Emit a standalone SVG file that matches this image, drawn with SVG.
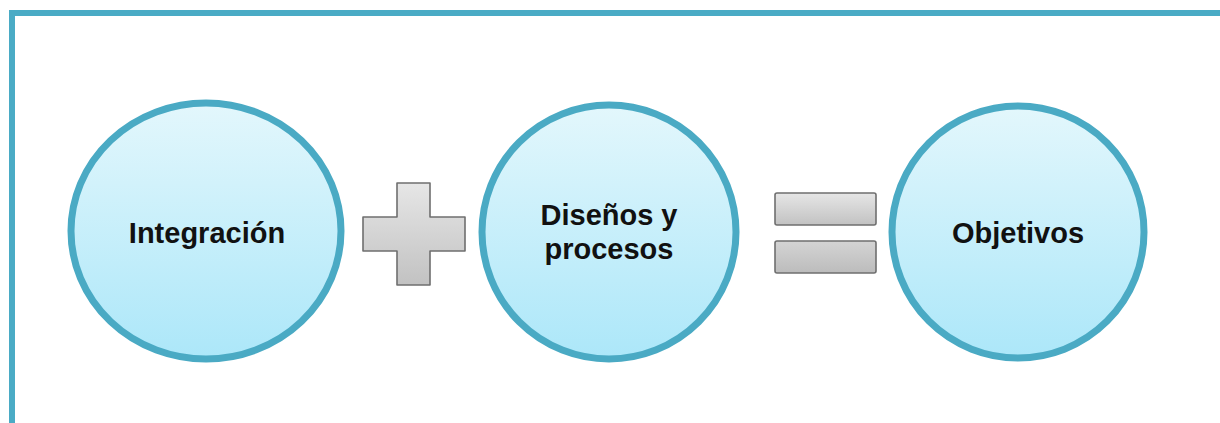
<svg xmlns="http://www.w3.org/2000/svg" width="1220" height="423" viewBox="0 0 1220 423">
<defs>
<linearGradient id="gCircle" x1="0" y1="0" x2="0" y2="1">
<stop offset="0" stop-color="#e3f7fc"/>
<stop offset="1" stop-color="#ace7f9"/>
</linearGradient>
<linearGradient id="gGray" x1="0" y1="0" x2="0" y2="1">
<stop offset="0" stop-color="#e6e6e6"/>
<stop offset="1" stop-color="#c2c2c2"/>
</linearGradient>
<linearGradient id="gGray2" x1="0" y1="0" x2="0" y2="1">
<stop offset="0" stop-color="#d4d4d4"/>
<stop offset="1" stop-color="#bcbcbc"/>
</linearGradient>
<style>
.node{fill:url(#gCircle);stroke:#4aaac4;stroke-width:7}
.op{stroke:#6f6f6f;stroke-width:1.6}
.lbl{font-family:"Liberation Sans",Arial,sans-serif;font-weight:bold;font-size:29px;fill:#111;text-anchor:middle}
</style>
</defs>
<rect x="0" y="0" width="1220" height="423" fill="#ffffff"/>
<g id="frame">
<rect x="9" y="10" width="1211" height="6" fill="#4aabc5"/>
<rect x="9" y="10" width="6" height="413" fill="#4aabc5"/>
</g>
<g id="node-integracion">
<ellipse class="node" cx="206" cy="231" rx="135" ry="128"/>
<text class="lbl" x="207" y="243">Integración</text>
</g>
<g id="op-plus">
<path class="op" fill="url(#gGray)" d="M397,183 H430 V217 H465 V251 H430 V285 H397 V251 H363 V217 H397 Z" stroke-linejoin="round"/>
</g>
<g id="node-disenos">
<circle class="node" cx="609" cy="232" r="127"/>
<text class="lbl" x="609" y="225">Diseños y</text>
<text class="lbl" x="609" y="259">procesos</text>
</g>
<g id="op-equals">
<rect class="op" x="775" y="193" width="101" height="32" rx="2" fill="url(#gGray)"/>
<rect class="op" x="775" y="241" width="101" height="32" rx="2" fill="url(#gGray2)"/>
</g>
<g id="node-objetivos">
<circle class="node" cx="1018" cy="232" r="126"/>
<text class="lbl" x="1018" y="243">Objetivos</text>
</g>
<g id="connectors"></g>
</svg>
